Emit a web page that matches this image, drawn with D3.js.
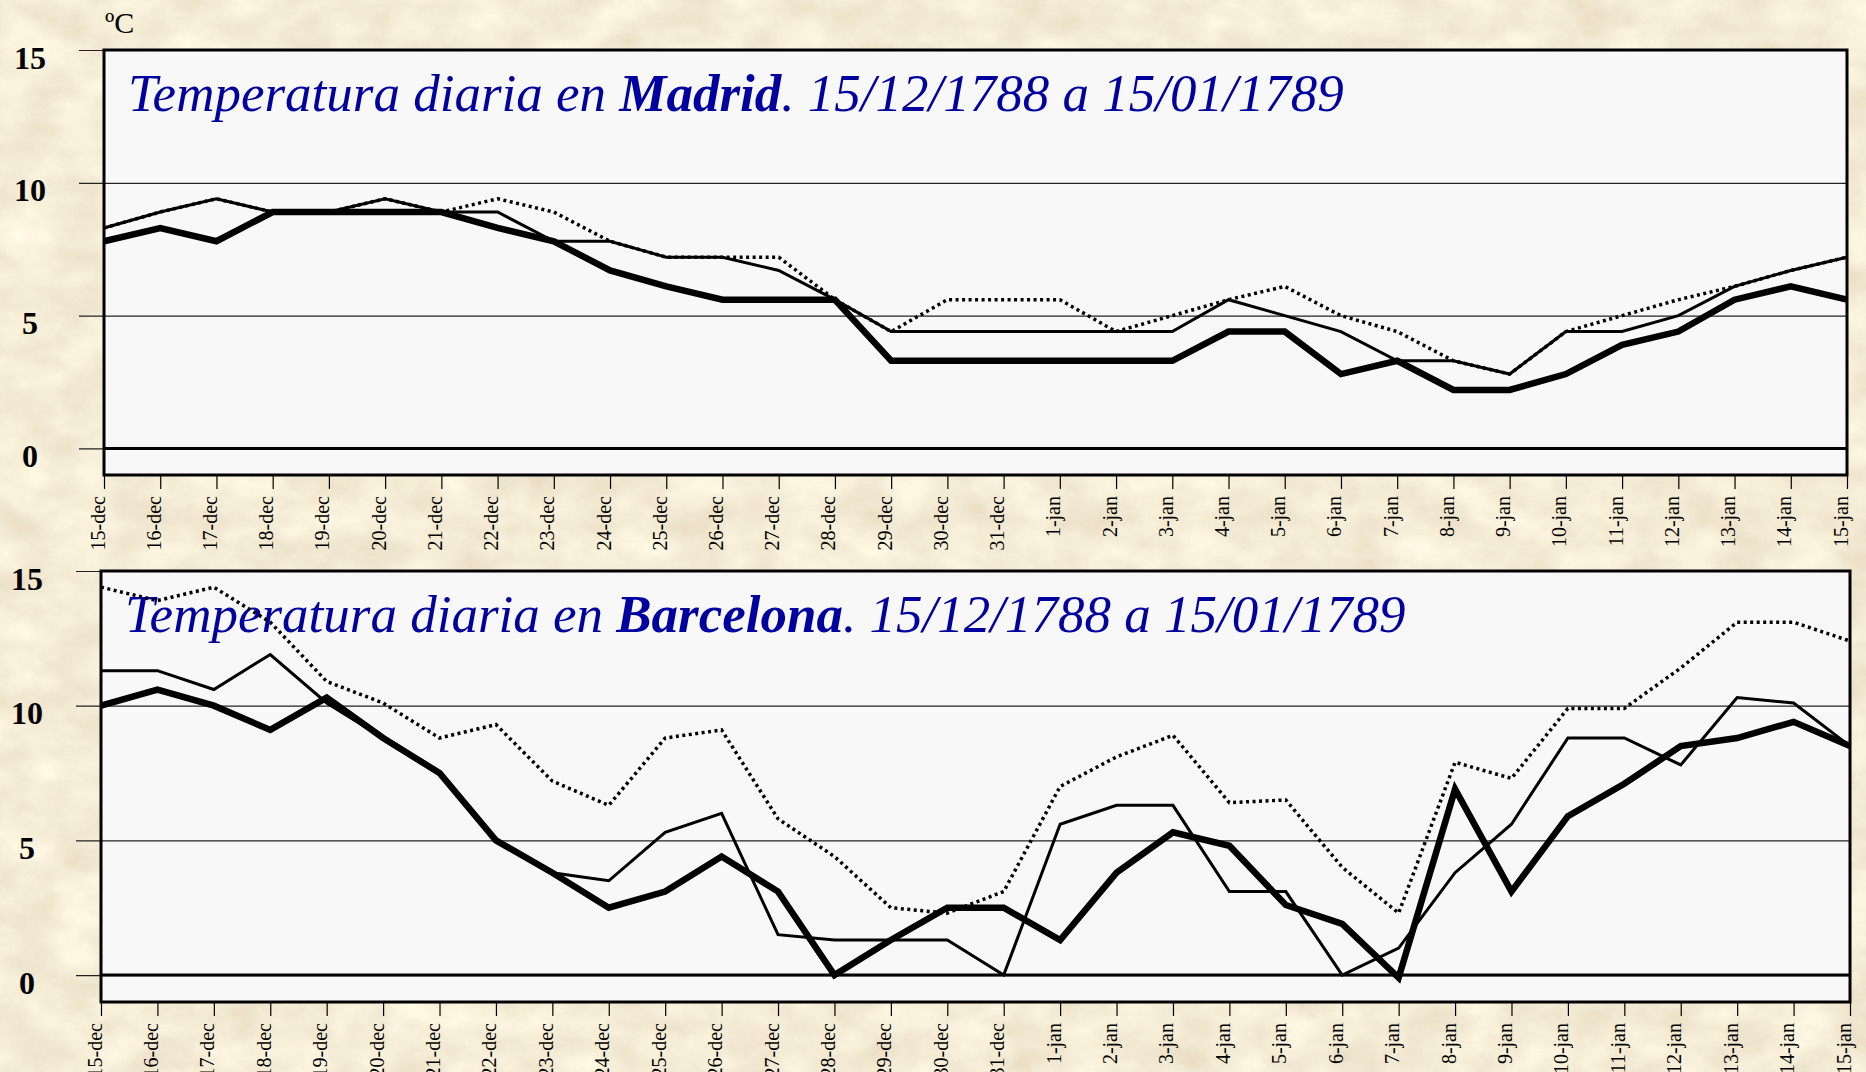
<!DOCTYPE html>
<html>
<head>
<meta charset="utf-8">
<script src="https://cdn.jsdelivr.net/npm/d3@7"></script>
<style>
  html, body { margin: 0; padding: 0; background: #e9d6ab; }
  svg { display: block; }
</style>
</head>
<body>
<div id="chart"></div>
<script>
// Days shown on the x axis
const days = [
  "15-dec", "16-dec", "17-dec", "18-dec", "19-dec", "20-dec", "21-dec", "22-dec",
  "23-dec", "24-dec", "25-dec", "26-dec", "27-dec", "28-dec", "29-dec", "30-dec",
  "31-dec", "1-jan", "2-jan", "3-jan", "4-jan", "5-jan", "6-jan", "7-jan",
  "8-jan", "9-jan", "10-jan", "11-jan", "12-jan", "13-jan", "14-jan", "15-jan"
];
const yTicks = [0, 5, 10, 15];

// Madrid, three daily readings (ºC)
const madridThick = [7.8, 8.3, 7.8, 8.9, 8.9, 8.9, 8.9, 8.3, 7.8, 6.7, 6.1, 5.6, 5.6, 5.6, 3.3, 3.3,
  3.3, 3.3, 3.3, 3.3, 4.4, 4.4, 2.8, 3.3, 2.2, 2.2, 2.8, 3.9, 4.4, 5.6, 6.1, 5.6];
const madridThin = [8.3, 8.9, 9.4, 8.9, 8.9, 9.4, 8.9, 8.9, 7.8, 7.8, 7.2, 7.2, 6.7, 5.6, 4.4, 4.4,
  4.4, 4.4, 4.4, 4.4, 5.6, 5.0, 4.4, 3.3, 3.3, 2.8, 4.4, 4.4, 5.0, 6.1, 6.7, 7.2];
const madridDotted = [8.3, 8.9, 9.4, 8.9, 8.9, 9.4, 8.9, 9.4, 8.9, 7.8, 7.2, 7.2, 7.2, 5.6, 4.4, 5.6,
  5.6, 5.6, 4.4, 5.0, 5.6, 6.1, 5.0, 4.4, 3.3, 2.8, 4.4, 5.0, 5.6, 6.1, 6.7, 7.2];

// Barcelona, three daily readings (ºC)
const barcelonaThick = [10.0, 10.6, 10.0, 9.1, 10.3, 8.8, 7.5, 5.0, 3.8, 2.5, 3.1, 4.4, 3.1, 0.0, 1.3, 2.5,
  2.5, 1.3, 3.8, 5.3, 4.8, 2.6, 1.9, -0.1, 6.9, 3.1, 5.9, 7.1, 8.5, 8.8, 9.4, 8.5];
const barcelonaThin = [11.3, 11.3, 10.6, 11.9, 10.1, 8.8, 7.5, 5.0, 3.8, 3.5, 5.3, 6.0, 1.5, 1.3, 1.3, 1.3,
  0.0, 5.6, 6.3, 6.3, 3.1, 3.1, 0.0, 1.0, 3.8, 5.6, 8.8, 8.8, 7.8, 10.3, 10.1, 8.5];
const barcelonaDotted = [14.4, 13.9, 14.4, 13.1, 10.9, 10.1, 8.8, 9.3, 7.2, 6.3, 8.8, 9.1, 5.8, 4.4, 2.5, 2.3,
  3.1, 7.0, 8.1, 8.9, 6.4, 6.5, 4.0, 2.3, 7.9, 7.3, 9.9, 9.9, 11.4, 13.1, 13.1, 12.4];

const width = 1866, height = 1072;
const serif = "'Liberation Serif', 'Times New Roman', 'DejaVu Serif', serif";

const svg = d3.select("#chart").append("svg")
  .attr("width", width)
  .attr("height", height);

// parchment background
const defs = svg.append("defs");
const paper = defs.append("filter")
  .attr("id", "paper")
  .attr("x", 0).attr("y", 0)
  .attr("width", width).attr("height", height)
  .attr("filterUnits", "userSpaceOnUse");
paper.append("feTurbulence")
  .attr("type", "fractalNoise")
  .attr("baseFrequency", "0.018 0.028")
  .attr("numOctaves", 5)
  .attr("seed", 3)
  .attr("result", "noise");
paper.append("feColorMatrix")
  .attr("in", "noise")
  .attr("type", "matrix")
  .attr("values", "0.25 0 0 0 0.79  0.3 0 0 0 0.69  0.3 0 0 0 0.52  0 0 0 0 1");

svg.append("rect")
  .attr("width", width)
  .attr("height", height)
  .attr("fill", "#e9d6ab")
  .attr("filter", "url(#paper)");

const panels = [
  { city: "Madrid", thick: madridThick, thin: madridThin, dotted: madridDotted,
    left: 104, right: 1847, top: 50, bottom: 475, labelX: 30, unit: true },
  { city: "Barcelona", thick: barcelonaThick, thin: barcelonaThin, dotted: barcelonaDotted,
    left: 101, right: 1850, top: 571, bottom: 1002, labelX: 27, unit: false }
];

panels.forEach(p => drawPanel(p));

function drawPanel(p) {
  const x = d3.scalePoint().domain(days).range([p.left, p.right]);
  const y = d3.scaleLinear().domain([-1, 15]).range([p.bottom, p.top]);
  const g = svg.append("g");

  // plot area
  g.append("rect")
    .attr("x", p.left)
    .attr("y", p.top)
    .attr("width", p.right - p.left)
    .attr("height", p.bottom - p.top)
    .attr("fill", "#f8f8f8");

  // y axis: grid lines running out past the left edge
  const yAxis = g.append("g")
    .attr("transform", `translate(${p.right},0)`)
    .call(d3.axisLeft(y)
      .tickValues(yTicks)
      .tickSize(p.right - p.left + 25)
      .tickFormat(d3.format("d")));
  yAxis.select(".domain").remove();
  yAxis.selectAll(".tick line")
    .attr("stroke", "#222")
    .attr("stroke-width", 1.2);
  yAxis.selectAll(".tick text")
    .attr("x", p.labelX - p.right)
    .attr("dy", 18)
    .attr("text-anchor", "middle")
    .attr("font-family", serif)
    .attr("font-weight", "bold")
    .attr("font-size", 32)
    .attr("fill", "#000");

  // zero line
  g.append("line")
    .attr("x1", p.left).attr("x2", p.right)
    .attr("y1", y(0)).attr("y2", y(0))
    .attr("stroke", "#000")
    .attr("stroke-width", 3);

  // x axis with vertical day labels
  const xAxis = g.append("g")
    .attr("transform", `translate(0,${p.bottom})`)
    .call(d3.axisBottom(x).tickSize(14));
  xAxis.select(".domain").remove();
  xAxis.selectAll(".tick line")
    .attr("stroke", "#000")
    .attr("stroke-width", 1.2);
  xAxis.selectAll(".tick text")
    .attr("x", -21)
    .attr("y", 0)
    .attr("dy", 0)
    .attr("transform", "rotate(-90)")
    .attr("text-anchor", "end")
    .attr("font-family", serif)
    .attr("font-size", 20)
    .attr("fill", "#000");

  // title
  const title = g.append("text")
    .attr("x", p.left + 24)
    .attr("y", p.top + 61)
    .attr("font-family", serif)
    .attr("font-style", "italic")
    .attr("font-size", 53)
    .attr("fill", "#0000a0");
  title.append("tspan").text("Temperatura diaria en ");
  title.append("tspan").attr("font-weight", "bold").text(p.city);
  title.append("tspan").text(". 15/12/1788 a 15/01/1789");

  // series
  const line = d3.line()
    .x((d, i) => x(days[i]))
    .y(d => y(d));

  g.append("path")
    .datum(p.dotted)
    .attr("d", line)
    .attr("fill", "none")
    .attr("stroke", "#000")
    .attr("stroke-width", 3.5)
    .attr("stroke-dasharray", "3,3.5");

  g.append("path")
    .datum(p.thin)
    .attr("d", line)
    .attr("fill", "none")
    .attr("stroke", "#000")
    .attr("stroke-width", 3);

  g.append("path")
    .datum(p.thick)
    .attr("d", line)
    .attr("fill", "none")
    .attr("stroke", "#000")
    .attr("stroke-width", 6.5);

  // frame
  g.append("rect")
    .attr("x", p.left)
    .attr("y", p.top)
    .attr("width", p.right - p.left)
    .attr("height", p.bottom - p.top)
    .attr("fill", "none")
    .attr("stroke", "#000")
    .attr("stroke-width", 3);

  if (p.unit) {
    g.append("text")
      .attr("x", p.left + 1)
      .attr("y", p.top - 17)
      .attr("font-family", serif)
      .attr("font-size", 30)
      .attr("fill", "#000")
      .text("ºC");
  }
}
</script>
</body>
</html>
